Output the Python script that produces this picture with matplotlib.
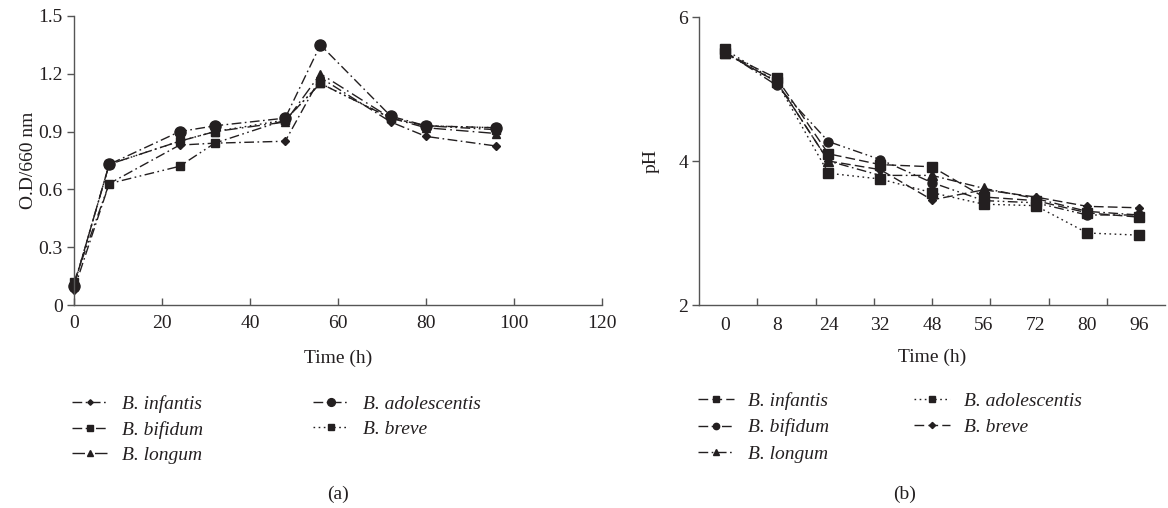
import matplotlib
matplotlib.use("Agg")
import matplotlib.pyplot as plt

# ---------------- data ----------------
time_a = [0, 8, 24, 32, 48, 56, 72, 80, 96]
od_infantis = [0.08, 0.63, 0.83, 0.84, 0.85, 1.18, 0.95, 0.875, 0.825]
od_adolescentis = [0.10, 0.73, 0.90, 0.93, 0.97, 1.35, 0.98, 0.93, 0.92]
od_bifidum = [0.12, 0.63, 0.72, 0.84, 0.96, 1.15, 0.97, 0.93, 0.91]
od_breve = [0.10, 0.73, 0.85, 0.90, 0.96, 1.15, 0.97, 0.93, 0.92]
od_longum = [0.10, 0.73, 0.85, 0.90, 0.95, 1.20, 0.97, 0.92, 0.89]

time_b_labels = ["0", "8", "24", "32", "48", "56", "72", "80", "96"]
ph_infantis = [5.50, 5.15, 4.10, 3.95, 3.92, 3.50, 3.45, 3.28, 3.22]
ph_adolescentis = [5.55, 5.10, 3.83, 3.75, 3.56, 3.40, 3.38, 3.00, 2.97]
ph_bifidum = [5.52, 5.05, 4.27, 4.02, 3.70, 3.45, 3.42, 3.25, 3.25]
ph_breve = [5.50, 5.10, 4.00, 3.88, 3.46, 3.60, 3.50, 3.37, 3.35]
ph_longum = [5.50, 5.10, 4.00, 3.80, 3.80, 3.62, 3.48, 3.30, 3.25]

names = ["B. infantis", "B. bifidum", "B. longum", "B. adolescentis", "B. breve"]

# ---------------- style ----------------
plt.rcParams['font.family'] = ['Liberation Serif', 'DejaVu Serif']
INK = '#231f20'
FS = 14
W, H = 1168, 508
fig = plt.figure(figsize=(W / 100, H / 100), dpi=100)

def px_axes(x0, x1, ytop, ybot):
    return fig.add_axes([x0 / W, 1 - ybot / H, (x1 - x0) / W, (ybot - ytop) / H])

DASHDOT = (0, (7, 2.5, 1.2, 2.5))
DASHDOTDOT = (0, (7, 2.5, 1.2, 2.5, 1.2, 2.5))
DOT = (0, (1.2, 2.5))
DASH = (0, (7, 3))
LONGDASHDOT = (0, (9, 3, 1.2, 3))

def style_axes(ax):
    for s in ['top', 'right']:
        ax.spines[s].set_visible(False)
    for s in ['left', 'bottom']:
        ax.spines[s].set_color('#555555')
        ax.spines[s].set_linewidth(1.0)
    ax.tick_params(axis='y', direction='out', length=5, width=1, color='#555555',
                   labelsize=FS, labelcolor=INK, pad=3)
    ax.tick_params(axis='x', direction='in', length=5, width=1, color='#555555',
                   labelsize=FS, labelcolor=INK, pad=7)

def make_legend(handles, x, ytop, colspace, lspace):
    return fig.legend(handles=handles, labels=names, ncol=2, frameon=False,
                      loc='upper left', bbox_to_anchor=(x / W, 1 - ytop / H),
                      prop={'family': 'Liberation Serif', 'style': 'italic', 'size': FS},
                      handlelength=1.85, handletextpad=0.72, columnspacing=colspace,
                      labelspacing=lspace, markerscale=0.7, labelcolor=INK,
                      borderpad=0, borderaxespad=0)

# ---------------- panel (a) ----------------
axa = px_axes(74, 602, 16, 305)
series_a = [
    (od_infantis, DASHDOT, 'D', 4.0),
    (od_bifidum, DASHDOTDOT, 's', 5.5),
    (od_longum, LONGDASHDOT, '^', 6.0),
    (od_adolescentis, DASHDOT, 'o', 8.0),
    (od_breve, DOT, 's', 5.5),
]
handles_a = []
for (vals, ls, mk, ms), nm in zip(series_a, names):
    ln, = axa.plot(time_a, vals, linestyle=ls, color=INK, lw=1.0, marker=mk,
                   markersize=ms, markerfacecolor=INK, markeredgecolor=INK,
                   label=nm, clip_on=False)
    handles_a.append(ln)
axa.set_xlim(0, 120)
axa.set_ylim(0, 1.5)
axa.set_xticks([0, 20, 40, 60, 80, 100, 120])
axa.set_yticks([0, 0.3, 0.6, 0.9, 1.2, 1.5])
axa.set_yticklabels(["0", "0.3", "0.6", "0.9", "1.2", "1.5"])
style_axes(axa)
axa.set_xlabel("Time (h)", fontsize=FS, color=INK, labelpad=13)
axa.set_ylabel("O.D/660 nm", fontsize=FS, color=INK, labelpad=1)

make_legend(handles_a, 72, 395, 5.66, 0.4)
fig.text(338 / W, 1 - 494 / H, "(a)", ha='center', va='center', fontsize=FS, color=INK)

# ---------------- panel (b) ----------------
axb = px_axes(699, 1165, 17, 305)
xb = list(range(len(time_b_labels)))
series_b = [
    (ph_infantis, DASH, 's', 6.5),
    (ph_bifidum, DASHDOTDOT, 'o', 6.5),
    (ph_longum, DASHDOT, '^', 6.5),
    (ph_adolescentis, DOT, 's', 6.5),
    (ph_breve, DASH, 'D', 4.5),
]
handles_b = []
for (vals, ls, mk, ms), nm in zip(series_b, names):
    ln, = axb.plot(xb, vals, linestyle=ls, color=INK, lw=1.0, marker=mk,
                   markersize=ms, markerfacecolor=INK, markeredgecolor=INK,
                   label=nm, clip_on=False)
    handles_b.append(ln)
n = len(time_b_labels)
axb.set_xlim(-0.5, n - 0.5)
axb.set_ylim(2, 6)
axb.set_yticks([2, 4, 6])
axb.xaxis.remove_overlapping_locs = False
step = n / (n - 1)
axb.set_xticks([-0.5 + k * step for k in range(1, n - 1)])
axb.set_xticklabels([])
axb.set_xticks(xb, minor=True)
axb.set_xticklabels(time_b_labels, minor=True)
style_axes(axb)
axb.tick_params(axis='x', which='minor', length=0, labelsize=FS, labelcolor=INK, pad=9)
axb.set_xlabel("Time (h)", fontsize=FS, color=INK, labelpad=10)
axb.set_ylabel("pH", fontsize=FS, color=INK, labelpad=13)

make_legend(handles_b, 698, 392, 4.37, 0.45)
fig.text(905 / W, 1 - 494 / H, "(b)", ha='center', va='center', fontsize=FS, color=INK)

fig.savefig("out.png", dpi=100, facecolor='white')
